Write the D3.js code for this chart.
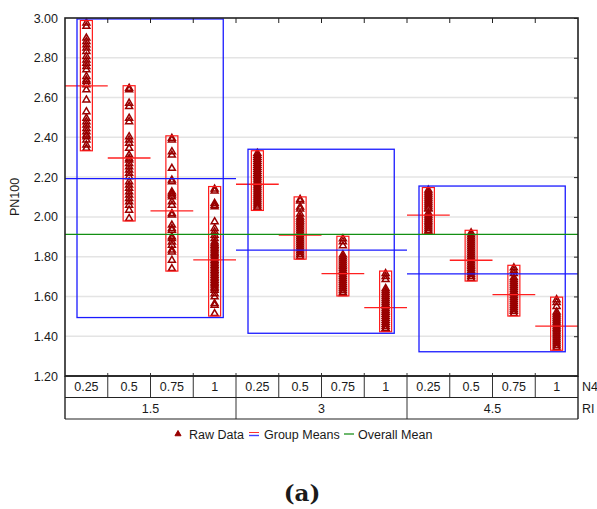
<!DOCTYPE html>
<html>
<head>
<meta charset="utf-8">
<script src="https://cdn.jsdelivr.net/npm/d3@7"></script>
<style>
  body { margin: 0; background: #fff; }
  text { font-family: "Liberation Sans", Arial, sans-serif; fill: #1a1a1a; }
</style>
</head>
<body>
<div id="chart"></div>
<script>
// levels of the two factors
const n4Levels = ['0.25', '0.5', '0.75', '1'];
const riLevels = ['1.5', '3', '4.5'];
const yTicks = [1.2, 1.4, 1.6, 1.8, 2.0, 2.2, 2.4, 2.6, 2.8, 3.0];

// raw PN100 values, one array per N4 level
const rawRI15 = [
  [2.975, 2.958, 2.899, 2.882, 2.865, 2.849, 2.832, 2.807, 2.789, 2.773, 2.756, 2.740, 2.706, 2.689, 2.681,
   2.665, 2.639, 2.588, 2.529, 2.496, 2.479, 2.462, 2.445, 2.428, 2.412, 2.403, 2.387, 2.362, 2.345],
  [2.647, 2.639, 2.572, 2.555, 2.496, 2.479, 2.403, 2.387, 2.370, 2.345, 2.311, 2.294, 2.286, 2.269, 2.252,
   2.236, 2.219, 2.202, 2.177, 2.160, 2.144, 2.126, 2.110, 2.093, 2.076, 2.059, 2.034, 1.992],
  [2.395, 2.387, 2.328, 2.311, 2.244, 2.185, 2.177, 2.126, 2.118, 2.110, 2.101, 2.076, 2.059, 2.017, 2.009,
   1.959, 1.942, 1.933, 1.900, 1.891, 1.874, 1.858, 1.833, 1.824, 1.782, 1.740],
  [2.140, 2.130, 2.068, 2.059, 2.051, 1.976, 1.942, 1.925, 1.908, 1.891, 1.875, 1.866, 1.858, 1.850, 1.841,
   1.833, 1.824, 1.816, 1.808, 1.799, 1.791, 1.782, 1.774, 1.766, 1.757, 1.749, 1.740, 1.732, 1.724, 1.715,
   1.707, 1.698, 1.690, 1.682, 1.673, 1.665, 1.657, 1.648, 1.640, 1.631, 1.614, 1.598, 1.564, 1.556, 1.514]
];
const rawRI3 = [
  [2.320, 2.310, 2.300, 2.290, 2.280, 2.270, 2.260, 2.250, 2.240, 2.230, 2.220, 2.210, 2.200, 2.190, 2.180,
   2.170, 2.160, 2.150, 2.140, 2.130, 2.120, 2.110, 2.100, 2.090, 2.080, 2.070, 2.060, 2.050, 2.045],
  [2.088, 2.080, 2.050, 2.040, 2.015, 2.000, 1.990, 1.980, 1.970, 1.960, 1.950, 1.940, 1.930, 1.920, 1.910,
   1.900, 1.890, 1.880, 1.870, 1.860, 1.850, 1.840, 1.830, 1.820, 1.810, 1.800],
  [1.890, 1.875, 1.855, 1.810, 1.800, 1.790, 1.780, 1.770, 1.760, 1.750, 1.740, 1.730, 1.720, 1.710, 1.700,
   1.690, 1.680, 1.670, 1.660, 1.650, 1.640, 1.630, 1.620, 1.615],
  [1.715, 1.700, 1.685, 1.640, 1.630, 1.620, 1.610, 1.600, 1.590, 1.580, 1.570, 1.560, 1.550, 1.540, 1.530,
   1.520, 1.510, 1.500, 1.490, 1.480, 1.470, 1.460, 1.450, 1.440, 1.435]
];
const rawRI45 = [
  [2.135, 2.125, 2.115, 2.105, 2.095, 2.085, 2.075, 2.065, 2.055, 2.045, 2.040, 2.020, 2.010, 2.000, 1.990,
   1.980, 1.970, 1.960, 1.950, 1.940, 1.930, 1.925],
  [1.920, 1.910, 1.900, 1.890, 1.880, 1.870, 1.860, 1.850, 1.840, 1.830, 1.820, 1.810, 1.800, 1.790, 1.780,
   1.770, 1.760, 1.750, 1.740, 1.730, 1.720, 1.710, 1.700, 1.690],
  [1.744, 1.730, 1.715, 1.695, 1.685, 1.675, 1.665, 1.655, 1.645, 1.635, 1.625, 1.615, 1.605, 1.595, 1.585,
   1.575, 1.565, 1.555, 1.545, 1.535, 1.525, 1.514],
  [1.584, 1.570, 1.550, 1.522, 1.512, 1.502, 1.492, 1.482, 1.472, 1.462, 1.452, 1.442, 1.432, 1.422, 1.412,
   1.402, 1.392, 1.382, 1.372, 1.362, 1.352, 1.342]
];

// means as drawn in the picture
const cellMeans = [2.659, 2.296, 2.030, 1.784, 2.164, 1.908, 1.715, 1.544, 2.009, 1.782, 1.609, 1.451];
const groupMeans = [2.192, 1.833, 1.713];
const overallMean = 1.912;

const width = 597, height = 509;
const margin = { top: 18, right: 19, bottom: 133, left: 65 };
const plotW = width - margin.left - margin.right;
const plotH = height - margin.top - margin.bottom;

const rawByRI = [rawRI15, rawRI3, rawRI45];
const cells = riLevels.flatMap((ri, i) => n4Levels.map((n4, j) => ({
  key: ri + '|' + n4, ri, n4, gi: i,
  values: rawByRI[i][j],
  mean: cellMeans[i * 4 + j]
})));

const svg = d3.select('#chart').append('svg')
  .attr('width', width)
  .attr('height', height);

const g = svg.append('g')
  .attr('transform', 'translate(' + margin.left + ',' + margin.top + ')');

const x = d3.scaleBand().domain(cells.map(d => d.key)).range([0, plotW]);
const xGroup = d3.scaleBand().domain(riLevels).range([0, plotW]);
const y = d3.scaleLinear().domain([1.2, 3.0]).range([plotH, 0]);
const bw = x.bandwidth();
const cx = d => x(d.key) + bw / 2;

// grid
g.append('g').selectAll('line')
  .data(yTicks.slice(1, -1))
  .enter().append('line')
  .attr('x1', 0).attr('x2', plotW)
  .attr('y1', d => y(d)).attr('y2', d => y(d))
  .attr('stroke', '#e4e4e4')
  .attr('stroke-width', 1.5);

// raw points
const tri = d3.symbol().type(d3.symbolTriangle).size(21);
const cellG = g.selectAll('.cell')
  .data(cells)
  .enter().append('g')
  .attr('class', 'cell');

cellG.selectAll('path')
  .data(d => d.values.map(v => ({ v, c: cx(d) })))
  .enter().append('path')
  .attr('d', tri)
  .attr('transform', d => 'translate(' + d.c + ',' + y(d.v) + ')')
  .attr('fill', 'none')
  .attr('stroke', '#990000')
  .attr('stroke-width', 1.5);

// red boxes around each cell's data
cellG.append('rect')
  .attr('x', d => cx(d) - 6)
  .attr('width', 12)
  .attr('y', d => y(d3.max(d.values)) - 2.5)
  .attr('height', d => y(d3.min(d.values)) - y(d3.max(d.values)) + 5)
  .attr('fill', 'none')
  .attr('stroke', '#ff1a1a')
  .attr('stroke-width', 1.2);

// red cell means
cellG.append('line')
  .attr('x1', d => x(d.key)).attr('x2', d => x(d.key) + bw)
  .attr('y1', d => y(d.mean)).attr('y2', d => y(d.mean))
  .attr('stroke', '#ff2020')
  .attr('stroke-width', 1.3);

// blue group boxes and means
const groups = riLevels.map((ri, i) => {
  const gc = cells.filter(c => c.gi === i);
  const all = gc.flatMap(c => c.values);
  return { ri, first: gc[0], last: gc[gc.length - 1], max: d3.max(all), min: d3.min(all), mean: groupMeans[i] };
});

g.selectAll('.gbox')
  .data(groups)
  .enter().append('rect')
  .attr('class', 'gbox')
  .attr('x', d => x(d.first.key) + 12)
  .attr('width', d => x(d.last.key) + 30 - x(d.first.key) - 12)
  .attr('y', d => y(d.max) - 4)
  .attr('height', d => y(d.min) - y(d.max) + 8)
  .attr('fill', 'none')
  .attr('stroke', '#1a1aff')
  .attr('stroke-width', 1.3);

g.selectAll('.gmean')
  .data(groups)
  .enter().append('line')
  .attr('class', 'gmean')
  .attr('x1', d => xGroup(d.ri)).attr('x2', d => xGroup(d.ri) + xGroup.bandwidth())
  .attr('y1', d => y(d.mean)).attr('y2', d => y(d.mean))
  .attr('stroke', '#1a1aff')
  .attr('stroke-width', 1.3);

// overall mean
g.append('line')
  .attr('x1', 0).attr('x2', plotW)
  .attr('y1', y(overallMean)).attr('y2', y(overallMean))
  .attr('stroke', '#138f13')
  .attr('stroke-width', 1.3);

// axes
const yAxis = g.append('g')
  .call(d3.axisLeft(y).tickValues(yTicks).tickFormat(d3.format('.2f')).tickSize(0).tickPadding(7));
yAxis.select('.domain').remove();
yAxis.selectAll('text').attr('font-size', '12.5px');

const yRight = g.append('g')
  .attr('transform', 'translate(' + plotW + ',0)')
  .call(d3.axisLeft(y).tickValues(yTicks).tickSize(4).tickFormat(''));
yRight.select('.domain').remove();
yRight.selectAll('line').attr('stroke', '#222');

// column boundary ticks along the top
const bounds = cells.slice(0, -1).map(d => x(d.key) + bw);
g.append('g').selectAll('line')
  .data(bounds)
  .enter().append('line')
  .attr('x1', d => d).attr('x2', d => d)
  .attr('y1', 0).attr('y2', 5)
  .attr('stroke', '#222');

// frame
g.append('rect')
  .attr('width', plotW).attr('height', plotH)
  .attr('fill', 'none')
  .attr('stroke', '#222')
  .attr('stroke-width', 1.6);

g.append('text')
  .attr('transform', 'translate(' + (-46) + ',' + (plotH / 2) + ') rotate(-90)')
  .attr('text-anchor', 'middle')
  .attr('font-size', '12.5px')
  .text('PN100');

// category table under the plot
const rowH = 21.5;
const table = g.append('g').attr('transform', 'translate(0,' + plotH + ')');

table.selectAll('.vcell')
  .data(bounds)
  .enter().append('line')
  .attr('x1', d => d).attr('x2', d => d)
  .attr('y1', -3).attr('y2', rowH)
  .attr('stroke', '#333');

table.selectAll('.vgroup')
  .data(riLevels.slice(1))
  .enter().append('line')
  .attr('x1', d => xGroup(d)).attr('x2', d => xGroup(d))
  .attr('y1', rowH).attr('y2', rowH * 2)
  .attr('stroke', '#333');

[0, rowH, rowH * 2].forEach(yy => {
  table.append('line')
    .attr('x1', 0).attr('x2', plotW)
    .attr('y1', yy).attr('y2', yy)
    .attr('stroke', '#222')
    .attr('stroke-width', yy === 0 ? 1.6 : 1.2);
});
[0, plotW].forEach(xx => {
  table.append('line')
    .attr('x1', xx).attr('x2', xx)
    .attr('y1', 0).attr('y2', rowH * 2)
    .attr('stroke', '#222')
    .attr('stroke-width', 1.4);
});

table.selectAll('.n4lab')
  .data(cells)
  .enter().append('text')
  .attr('x', d => cx(d))
  .attr('y', rowH / 2)
  .attr('dy', '0.36em')
  .attr('text-anchor', 'middle')
  .attr('font-size', '12.5px')
  .text(d => d.n4);

table.selectAll('.rilab')
  .data(riLevels)
  .enter().append('text')
  .attr('x', d => xGroup(d) + xGroup.bandwidth() / 2)
  .attr('y', rowH * 1.5)
  .attr('dy', '0.36em')
  .attr('text-anchor', 'middle')
  .attr('font-size', '12.5px')
  .text(d => d);

table.append('text')
  .attr('x', plotW + 4).attr('y', rowH / 2).attr('dy', '0.36em')
  .attr('font-size', '12.5px').text('N4');
table.append('text')
  .attr('x', plotW + 4).attr('y', rowH * 1.5).attr('dy', '0.36em')
  .attr('font-size', '12.5px').text('RI');

// legend
const leg = svg.append('g').attr('transform', 'translate(0,434)');
leg.append('path')
  .attr('d', d3.symbol().type(d3.symbolTriangle).size(16))
  .attr('transform', 'translate(178,0)')
  .attr('fill', '#990000')
  .attr('stroke', '#990000');
leg.append('text').attr('x', 189).attr('dy', '0.36em').attr('font-size', '12.5px').text('Raw Data');
leg.append('line').attr('x1', 249).attr('x2', 259).attr('y1', -1.5).attr('y2', -1.5)
  .attr('stroke', '#ff3030').attr('stroke-width', 1);
leg.append('line').attr('x1', 249).attr('x2', 259).attr('y1', 1.5).attr('y2', 1.5)
  .attr('stroke', '#4040ff').attr('stroke-width', 1.4);
leg.append('text').attr('x', 264).attr('dy', '0.36em').attr('font-size', '12.5px').text('Group Means');
leg.append('line').attr('x1', 344).attr('x2', 354).attr('y1', 0).attr('y2', 0)
  .attr('stroke', '#3da03d').attr('stroke-width', 1.5);
leg.append('text').attr('x', 358).attr('dy', '0.36em').attr('font-size', '12.5px').text('Overall Mean');

// panel caption
svg.append('text')
  .attr('x', 302).attr('y', 501)
  .attr('text-anchor', 'middle')
  .style('font-family', '"DejaVu Serif", serif')
  .style('font-weight', 'bold')
  .attr('font-size', '23px')
  .text('(a)');
</script>
</body>
</html>
